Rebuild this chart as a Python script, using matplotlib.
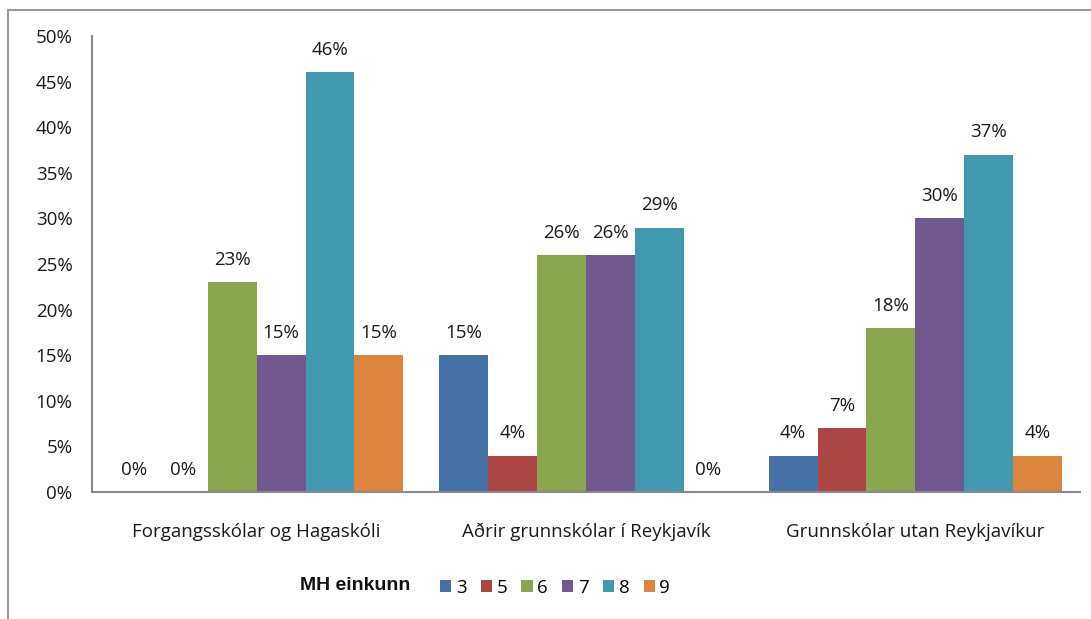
import matplotlib
matplotlib.use("Agg")
import matplotlib.pyplot as plt
from matplotlib.lines import Line2D
from matplotlib.patches import Patch
import numpy as np

plt.rcParams['font.family'] = ['Open Sans', 'DejaVu Sans']

categories = ["Forgangsskólar og Hagaskóli", "Aðrir grunnskólar í Reykjavík", "Grunnskólar utan Reykjavíkur"]
series_names = ["3", "5", "6", "7", "8", "9"]
values = {
    "3": [0, 15, 4],
    "5": [0, 4, 7],
    "6": [23, 26, 18],
    "7": [15, 26, 30],
    "8": [46, 29, 37],
    "9": [15, 0, 4],
}
colors = ["#4672A8", "#AA4643", "#89A54E", "#71588F", "#4198AF", "#DB843D"]
yticks = [0, 5, 10, 15, 20, 25, 30, 35, 40, 45, 50]

FS = 13.5
W, H = 1091, 619
fig = plt.figure(figsize=(W / 100, H / 100), dpi=100)
ax = fig.add_axes([92 / W, (H - 492) / H, (1080 - 92) / W, (492 - 36) / H])

n = len(series_names)
bw = 49 / 330
x = np.arange(len(categories))
for i, (s, c) in enumerate(zip(series_names, colors)):
    pos = x + (i - (n - 1) / 2) * bw
    v = np.array(values[s]) / 100
    ax.bar(pos, v, width=bw, color=c, edgecolor='none', zorder=2)
    for p, val in zip(pos, values[s]):
        ax.annotate(f"{val}%", (p, val / 100), xytext=(0, 9.5), textcoords='offset points',
                    ha='center', va='bottom', fontsize=FS, color='#1a1a1a')

ax.set_xlim(-0.5, 2.5)
ax.set_ylim(0, 0.5)
ax.set_yticks([t / 100 for t in yticks])
ax.set_yticklabels([f"{t}%" for t in yticks])
ax.set_xticks(x)
ax.set_xticklabels(categories)
ax.tick_params(axis='both', length=0, labelsize=FS, colors='#1a1a1a')
ax.tick_params(axis='y', pad=14)
ax.tick_params(axis='x', pad=22)
for side in ['top', 'right']:
    ax.spines[side].set_visible(False)
for side in ['left', 'bottom']:
    ax.spines[side].set_color('#8a8a8a')
    ax.spines[side].set_linewidth(1.5)

# outer border (chart area)
fig.add_artist(Line2D([8 / W, 8 / W], [0, (H - 10) / H], transform=fig.transFigure, color='#9a9a9a', lw=1.5))
fig.add_artist(Line2D([8 / W, 1], [(H - 10) / H, (H - 10) / H], transform=fig.transFigure, color='#9a9a9a', lw=1.5))

# legend
fig.text(300 / W, (H - 586) / H, "MH einkunn", fontsize=14, fontweight='bold', family='Liberation Sans',
         ha='left', va='center', color='#111111')
handles = [Patch(facecolor=c, edgecolor='none', label=s) for s, c in zip(series_names, colors)]
fig.legend(handles=handles, loc='center left', bbox_to_anchor=(440 / W, (H - 588) / H), ncol=6,
           frameon=False, fontsize=FS, handlelength=0.6, handleheight=0.6, handletextpad=0.25,
           columnspacing=0.75, borderpad=0, borderaxespad=0)

fig.savefig("out.png", dpi=100)
